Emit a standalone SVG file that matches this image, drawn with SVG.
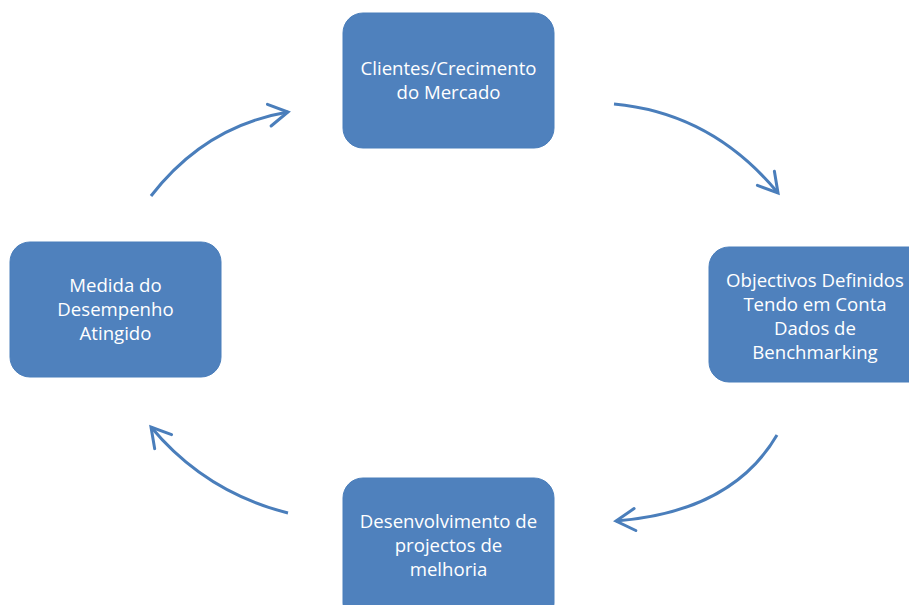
<svg xmlns="http://www.w3.org/2000/svg" width="909" height="605" viewBox="0 0 909 605">
  <style>
    .box { fill: #4F81BD; stroke: #4A7EBB; stroke-width: 1; }
    .lbl { fill: #FFFFFF; font-family: "Open Sans", "Liberation Sans", Arial, sans-serif; font-size: 18.6px; text-anchor: middle; }
    .arc { fill: none; stroke: #4A7EBB; stroke-width: 3; marker-end: url(#head); }
  </style>
  <defs>
    <marker id="head" markerUnits="userSpaceOnUse" markerWidth="30" markerHeight="30" viewBox="-25 -15 30 30" refX="0" refY="0" orient="auto">
      <path d="M-19,-11 L0,0 L-19,11" fill="none" stroke="#4A7EBB" stroke-width="3" stroke-linecap="round" stroke-linejoin="miter"/>
    </marker>
  </defs>

  <rect width="909" height="605" fill="#FFFFFF"/>

  <g id="clientes">
    <rect class="box" x="343" y="13" width="211" height="135" rx="20"/>
    <text class="lbl" x="448.5" y="75">Clientes/Crecimento</text>
    <text class="lbl" x="448.5" y="99">do Mercado</text>
  </g>

  <g id="objectivos">
    <rect class="box" x="709" y="247" width="220" height="135" rx="20"/>
    <text class="lbl" x="815" y="287">Objectivos Definidos</text>
    <text class="lbl" x="815" y="311">Tendo em Conta</text>
    <text class="lbl" x="815" y="335">Dados de</text>
    <text class="lbl" x="815" y="359">Benchmarking</text>
  </g>

  <g id="desenvolvimento">
    <rect class="box" x="343" y="478" width="211" height="145" rx="20"/>
    <text class="lbl" x="448.5" y="528">Desenvolvimento de</text>
    <text class="lbl" x="448.5" y="552">projectos de</text>
    <text class="lbl" x="448.5" y="576">melhoria</text>
  </g>

  <g id="medida">
    <rect class="box" x="10" y="242" width="211" height="135" rx="20"/>
    <text class="lbl" x="115.5" y="292">Medida do</text>
    <text class="lbl" x="115.5" y="316">Desempenho</text>
    <text class="lbl" x="115.5" y="340">Atingido</text>
  </g>

  <g id="connectors">
    <path class="arc" d="M614,104 Q712,113 778,193"/>
    <path class="arc" d="M777,435 Q732,512 616,521"/>
    <path class="arc" d="M288,513 Q205,492 151,427"/>
    <path class="arc" d="M151,196 Q205,126 288,112"/>
  </g>
</svg>
